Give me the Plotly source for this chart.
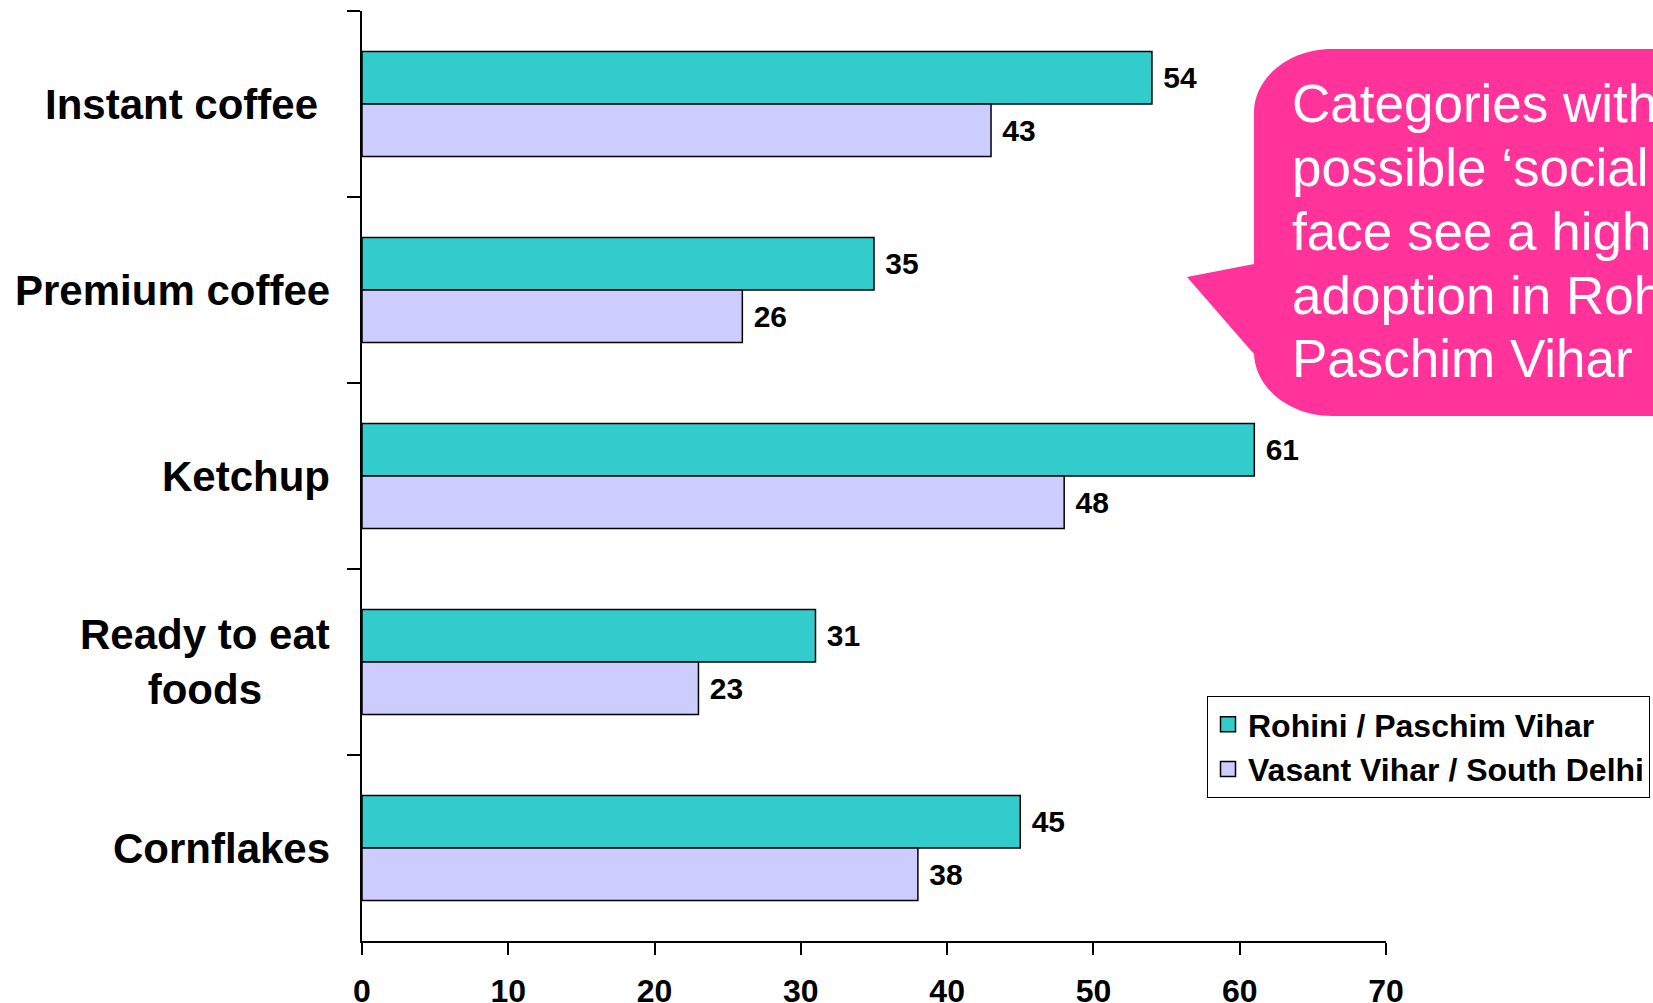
import plotly.graph_objects as go

categories = ["Instant coffee", "Premium coffee", "Ketchup", "Ready to eat foods", "Cornflakes"]
cat_labels = ["Instant coffee\u00a0", "Premium coffee", "Ketchup", "Ready to eat<br>foods", "Cornflakes"]
rohini = [54, 35, 61, 31, 45]
vasant = [43, 26, 48, 23, 38]
series_names = ["Rohini / Paschim Vihar", "Vasant Vihar / South Delhi"]
series_colors = ["#33CCCC", "#CCCCFF"]
x_ticks = [0, 10, 20, 30, 40, 50, 60, 70]
callout_lines = ["Categories with", "possible \u2018social", "face see a high", "adoption in Roh", "Paschim Vihar"]

W, H = 1653, 1003
L, R, T, B = 362, 1386, 11, 941

def px(x):
    return (x - L) / (R - L)

def py(y):
    return (B - y) / (B - T)

FONT = "Liberation Sans, Arial, sans-serif"

fig = go.Figure()
for name, vals, col in zip(series_names, [rohini, vasant], series_colors):
    fig.add_trace(go.Bar(
        y=categories, x=vals, orientation="h", name=name,
        marker=dict(color=col, line=dict(color="black", width=1.5)),
        text=["\u00a0" + str(v) for v in vals], textposition="outside",
        textfont=dict(family=FONT, size=30, color="black", weight="bold"),
        cliponaxis=False, showlegend=False,
    ))
# legend entries with larger square swatches
for i, (name, col) in enumerate(zip(series_names, series_colors)):
    fig.add_trace(go.Scatter(
        x=[None], y=[None], mode="markers", name=name,
        marker=dict(symbol="square", size=15, color=col, line=dict(color="black", width=1.5)),
        legendgroup=f"g{i}", showlegend=True,
    ))

annotations = []
for c, lab in zip(categories, cat_labels):
    annotations.append(dict(
        xref="paper", yref="y", x=px(332), y=c, xanchor="right", yanchor="middle",
        text=lab, showarrow=False, align="center",
        font=dict(family=FONT, size=42, color="black", weight="bold"),
    ))

first_baseline, line_step, csize = 123, 63.75, 53
for i, line in enumerate(callout_lines):
    base = first_baseline + i * line_step
    annotations.append(dict(
        xref="paper", yref="paper", x=px(1290), y=py(base - 0.36 * csize),
        xanchor="left", yanchor="middle",
        text=line, showarrow=False, align="left",
        font=dict(family=FONT, size=csize, color="white"),
    ))

# callout bubble
bl, bt, bb, br = 1254, 49, 416, 1720
rx, ry = 78, 64
k = 0.552
def P(x, y):
    return f"{px(x):.5f},{py(y):.5f}"
path = (
    f"M{P(bl + rx, bt)} L{P(br, bt)} L{P(br, bb)} L{P(bl + rx, bb)} "
    f"C{P(bl + rx - k * rx, bb)} {P(bl, bb - ry + k * ry)} {P(bl, bb - ry)} "
    f"L{P(bl, 354)} L{P(1187, 277)} L{P(bl, 264)} L{P(bl, bt + ry)} "
    f"C{P(bl, bt + ry - k * ry)} {P(bl + rx - k * rx, bt)} {P(bl + rx, bt)} Z"
)
shapes = [dict(type="path", xref="paper", yref="paper", path=path,
               fillcolor="#FF3399", line=dict(width=0), layer="below")]

fig.update_layout(
    width=W, height=H,
    margin=dict(l=L, r=W - R, t=T, b=H - B, pad=0, autoexpand=False),
    paper_bgcolor="white", plot_bgcolor="rgba(0,0,0,0)",
    barmode="group", bargap=0.435, bargroupgap=0,
    showlegend=True,
    legend=dict(
        x=px(1207), y=py(696), xanchor="left", yanchor="top",
        bordercolor="black", borderwidth=1, bgcolor="white",
        font=dict(family=FONT, size=32, color="black", weight="bold"),
        traceorder="grouped", tracegroupgap=0, itemsizing="trace",
    ),
    xaxis=dict(
        range=[0, 70], tickvals=x_ticks, ticktext=[str(t) for t in x_ticks],
        showgrid=False, zeroline=False, showline=True, linecolor="black", linewidth=1.5,
        ticks="outside", ticklen=12, tickwidth=1.5, tickcolor="black",
        tickfont=dict(family=FONT, size=32, color="black", weight="bold"),
        ticklabelstandoff=9, automargin=False,
    ),
    yaxis=dict(
        type="category", categoryorder="array", categoryarray=categories,
        autorange="reversed", showgrid=False, zeroline=False,
        showline=True, linecolor="black", linewidth=1.5,
        ticks="outside", ticklen=13, tickwidth=1.5, tickcolor="black",
        tickson="boundaries", showticklabels=False, automargin=False,
    ),
    annotations=annotations,
    shapes=shapes,
)

fig.write_html("out.html")
